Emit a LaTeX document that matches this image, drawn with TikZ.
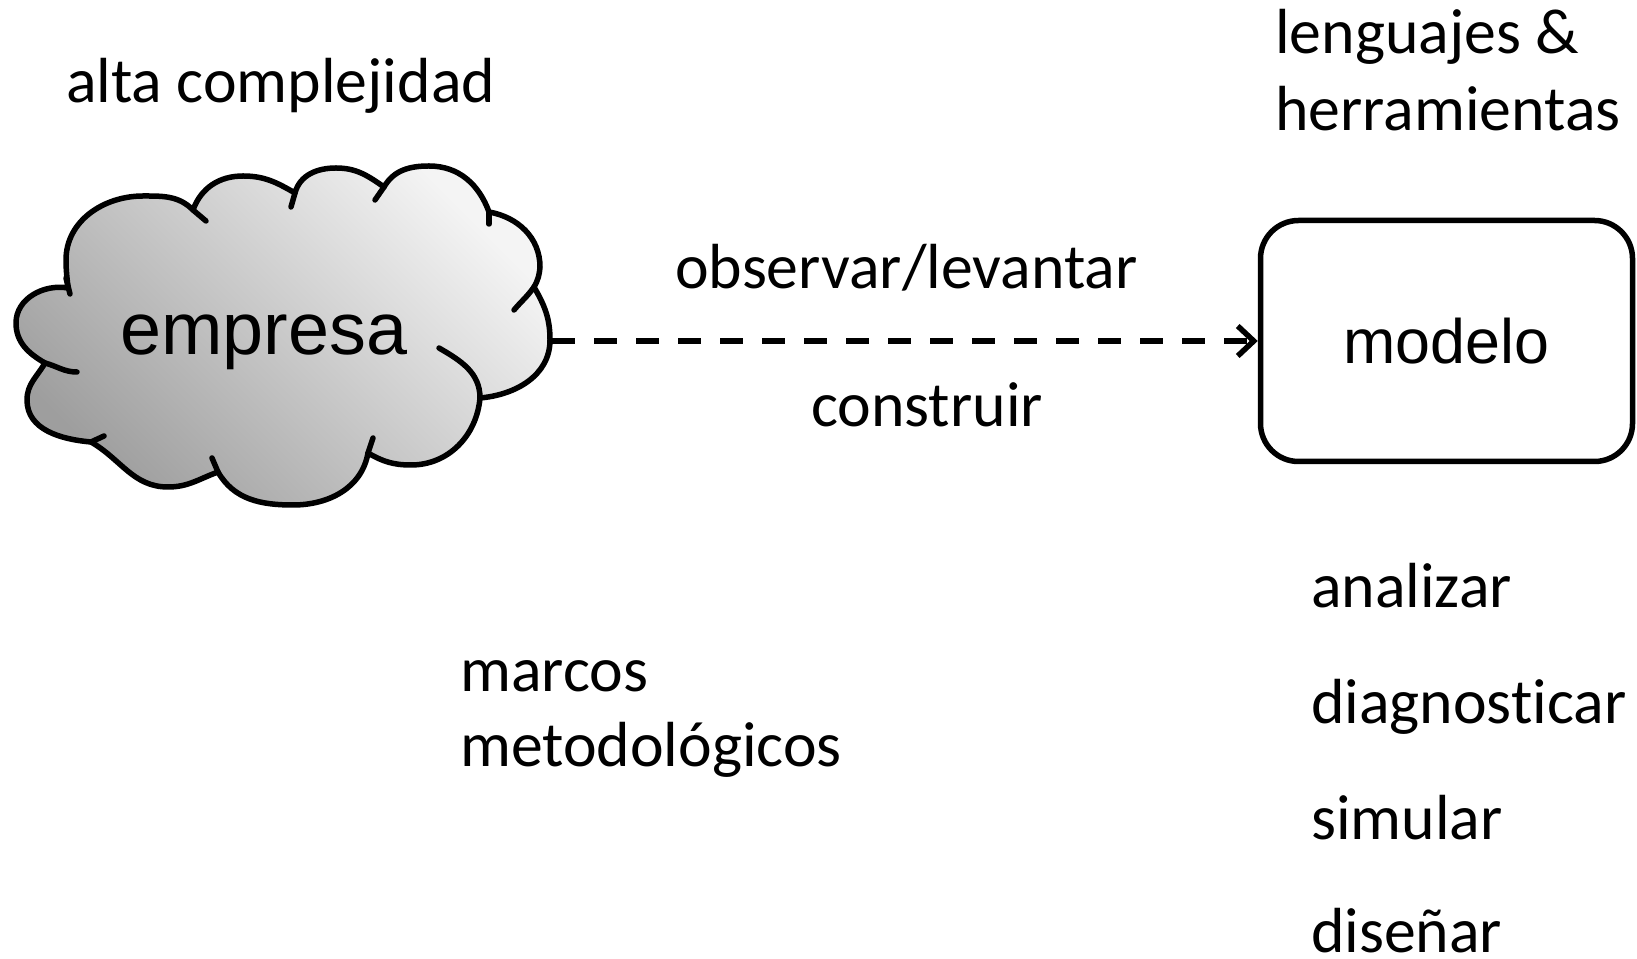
\documentclass[tikz,border=0pt]{standalone}
\usepackage{fontspec}
\setmainfont{Carlito}[Ligatures=NoCommon]
\newfontfamily\arialf{Liberation Sans}
\usetikzlibrary{arrows.meta}
\definecolor{cloudlight}{RGB}{244,244,244}
\definecolor{clouddark}{RGB}{158,158,158}
\tikzset{
  lbl/.style={anchor=base west, inner sep=0pt, font=\fontsize{64}{77}\selectfont},
  cloudline/.style={line width=5.5bp, line cap=round, line join=round, draw=black},
  modelbox/.style={draw, line width=5.5bp, rounded corners=38bp, minimum width=372bp,
    minimum height=241bp, inner sep=0pt, font=\arialf\fontsize{63}{75}\selectfont},
  dasharrow/.style={line width=5.5bp, dash pattern=on 23bp off 19bp,
    -{Straight Barb[length=16bp,width=30bp]}}
}
\begin{document}
\begin{tikzpicture}[x=1bp,y=1bp]
\useasboundingbox (0,0) rectangle (1637,958);
% cloud outline
\draw[cloudline, top color=cloudlight, bottom color=clouddark, shading angle=-45]
  (68,670) to[out=95,in=270] (66,698)
  to[out=90,in=180] (143,762)
  to[out=0,in=135] (193,748)
  to[out=70,in=180] (243,782)
  to[out=0,in=150] (295,765)
  to[out=75,in=180] (336,790)
  to[out=0,in=145] (384,771)
  to[out=60,in=180] (429,792)
  to[out=0,in=110] (489,746)
  to[out=350,in=90] (540,691)
  to[out=265,in=60] (534,671)
  to[out=300,in=90] (550,618)
  to[out=270,in=5] (480,560)
  to[out=265,in=0] (411,493)
  to[out=180,in=330] (368,505)
  to[out=260,in=0] (293,453)
  to[out=180,in=300] (218,486)
  to[out=200,in=0] (168,471)
  to[out=180,in=330] (91,516)
  to[out=175,in=270] (27,558)
  to[out=90,in=240] (45,595)
  to[out=150,in=270] (16,635)
  to[out=90,in=170] (68,670) -- cycle;
% inner arcs of the cloud
\draw[cloudline] (66,680) -- (70,664);
\draw[cloudline] (45,595) to[out=345,in=180] (77,586);
\draw[cloudline] (91,516) -- (104,522);
\draw[cloudline] (212,500) -- (218,486);
\draw[cloudline] (373,520) -- (368,505);
\draw[cloudline] (480,560) to[out=90,in=330] (439,610);
\draw[cloudline] (534,671) to[out=235,in=50] (514,648);
\draw[cloudline] (489,746) -- (489,734);
\draw[cloudline] (384,771) -- (375,758);
\draw[cloudline] (295,765) -- (291,751);
\draw[cloudline] (193,748) -- (206,737);
\node[font=\arialf\fontsize{74}{89}\selectfont, anchor=base, inner sep=0pt] (empresa) at (264,603) {empresa};
\coordinate (cloudE) at (552,617);
\node[modelbox] (modelo) at (1446.5,617) {modelo};
\draw[dasharrow] (cloudE) -- (modelo.west);
% labels
\node[lbl] (alta) at (66,855) {alta complejidad};
\node[lbl] (leng) at (1275,904) {lenguajes \&};
\node[lbl] (herr) at (1275,827) {herramientas};
\node[lbl] (obs) at (675,669) {observar/levantar};
\node[lbl] (cons) at (811,531) {construir};
\node[lbl] (marc) at (460,266) {marcos};
\node[lbl] (meto) at (460,191) {metodológicos};
\node[lbl] (anal) at (1311,350) {analizar};
\node[lbl] (diag) at (1311,234) {diagnosticar};
\node[lbl] (simu) at (1311,119) {simular};
\node[lbl] (dise) at (1311,6) {diseñar};
\end{tikzpicture}
\end{document}
